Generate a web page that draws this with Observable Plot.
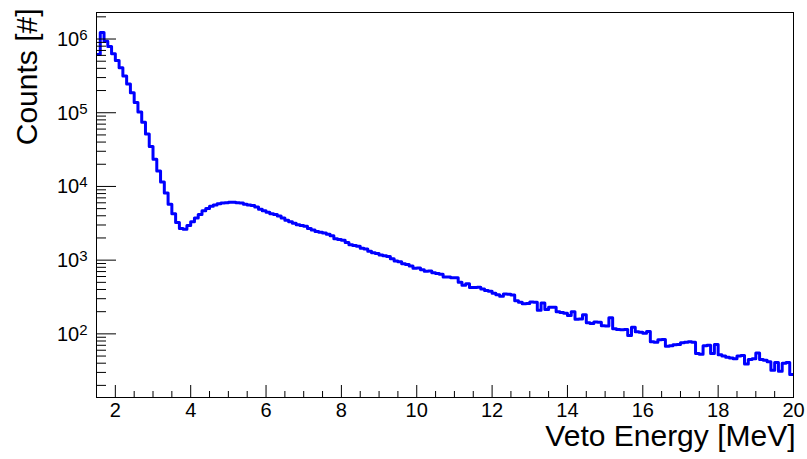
<!DOCTYPE html>
<html>
<head>
<meta charset="utf-8">
<script src="https://cdn.jsdelivr.net/npm/d3@7"></script>
<script src="https://cdn.jsdelivr.net/npm/@observablehq/plot@0.6"></script>
<style>
  html, body { margin: 0; padding: 0; background: #fff; }
  #chart { width: 807px; height: 459px; }
</style>
</head>
<body>
<div id="chart"></div>
<script>
// Histogram: 0.1 MeV bins starting at 1.5 MeV
const binStart = 1.5;
const binWidth = 0.1;
const xMax = 20;
const counts = [
  617000, 1230000, 933000, 794000, 631000, 513000, 407000, 316000, 245500, 186200,
  138000, 102300, 74100, 51300, 34700, 23440, 16220, 11480, 8130, 5750,
  4270, 3240, 2690, 2630, 2950, 3310, 3720, 4170, 4680, 5010,
  5370, 5620, 5820, 5960, 6030, 6100, 6090, 6020, 5950, 5750,
  5620, 5500, 5250, 4900, 4680, 4470, 4270, 4170, 3980, 3720,
  3470, 3310, 3160, 3020, 2950, 2880, 2690, 2570, 2450, 2400,
  2340, 2240, 2140, 1950, 1905, 1860, 1740, 1620, 1585, 1550,
  1445, 1413, 1318, 1259, 1230, 1175, 1148, 1122, 1047, 977,
  955, 891, 871, 832, 776, 780, 741, 708, 710, 676,
  661, 646, 589, 590, 575, 576, 501, 457, 479, 427,
  426, 428, 407, 389, 380, 355, 339, 324, 347, 346,
  338, 282, 269, 257, 258, 270, 268, 209, 263, 214,
  229, 230, 200, 195, 191, 178, 199, 158, 159, 182,
  141, 138, 145, 144, 129, 128, 166, 117, 115, 114,
  115, 95, 123, 107, 105, 102, 108, 78, 77, 83,
  84, 68, 69, 71, 72, 76, 77, 78, 77, 54,
  53, 69, 70, 54, 72, 52, 50, 48, 47, 46,
  50, 51, 39, 45, 46, 55, 45, 44, 42, 32,
  41, 31, 40, 41, 28
];
const yDomain = [13.7, 2.29e6];
const xMajorTicks = [2, 4, 6, 8, 10, 12, 14, 16, 18, 20];
const xMinorTicks = [2.5, 3, 3.5, 4.5, 5, 5.5, 6.5, 7, 7.5, 8.5, 9, 9.5, 10.5, 11, 11.5,
  12.5, 13, 13.5, 14.5, 15, 15.5, 16.5, 17, 17.5, 18.5, 19, 19.5];
const yMajorTicks = [1e2, 1e3, 1e4, 1e5, 1e6];
const yMinorTicks = [20, 30, 40, 50, 60, 70, 80, 90,
  200, 300, 400, 500, 600, 700, 800, 900,
  2000, 3000, 4000, 5000, 6000, 7000, 8000, 9000,
  20000, 30000, 40000, 50000, 60000, 70000, 80000, 90000,
  200000, 300000, 400000, 500000, 600000, 700000, 800000, 900000, 2000000];
const xTitle = "Veto Energy [MeV]";
const yTitle = "Counts [#]";

const hist = counts.map((c, i) => ({x: binStart + i * binWidth, y: c}));
hist.push({x: xMax, y: counts[counts.length - 1]});

const font = "'Liberation Sans', Arial, Helvetica, sans-serif";

const chart = Plot.plot({
  width: 807,
  height: 459,
  marginLeft: 96,
  marginRight: 14,
  marginTop: 12,
  marginBottom: 62,
  style: {fontFamily: font, background: "white", color: "black"},
  x: {domain: [binStart, xMax]},
  y: {type: "log", domain: yDomain},
  marks: [
    Plot.line(hist, {x: "x", y: "y", curve: "step-after", stroke: "#0000ff", strokeWidth: 3, clip: true}),
    Plot.frame({stroke: "black", strokeWidth: 1}),
    Plot.axisX(xMajorTicks, {tickSize: 0, tickPadding: 5, fontSize: 20, label: null}),
    Plot.axisX(xMajorTicks, {tickSize: -12, tickFormat: () => "", label: null}),
    Plot.axisX(xMinorTicks, {tickSize: -6, tickFormat: () => "", label: null}),
    Plot.axisY(yMajorTicks, {tickSize: 0, tickPadding: 9, fontSize: 20, label: null,
      tickFormat: d => "10^" + Math.round(Math.log10(d))}),
    Plot.axisY(yMajorTicks, {tickSize: -20, tickFormat: () => "", label: null}),
    Plot.axisY(yMinorTicks, {tickSize: -10, tickFormat: () => "", label: null}),
    Plot.text([xTitle], {frameAnchor: "bottom-right", text: d => d, textAnchor: "end",
      fontSize: 30, dx: 2, dy: 48}),
    Plot.text([yTitle], {frameAnchor: "top-left", text: d => d, textAnchor: "end",
      rotate: -90, fontSize: 30, dx: -81, dy: -4})
  ]
});

// superscript exponents on the log-axis labels
d3.select(chart).selectAll('g[aria-label="y-axis tick label"] text').each(function() {
  const t = d3.select(this);
  const s = t.text();
  if (s.includes("^")) {
    const [base, exp] = s.split("^");
    t.text(null);
    t.attr("dy", null).attr("y", 7);
    t.append("tspan").text(base);
    t.append("tspan").attr("font-size", 15).attr("dy", -6).text(exp);
  }
});

document.getElementById("chart").appendChild(chart);
</script>
</body>
</html>
